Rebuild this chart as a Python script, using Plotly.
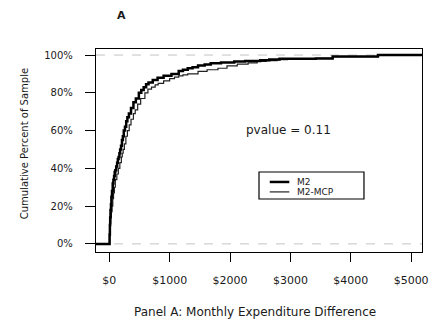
import plotly.graph_objects as go

# ECDF breakpoints (x in $, y in cumulative %)
m2_x = [-220, 0, 5, 10, 15, 20, 28, 35, 45, 57, 68, 80, 90, 100, 115, 130, 142, 155, 168, 180,
        195, 210, 225, 240, 260, 280, 300, 325, 360, 400, 440, 490, 530, 570, 610, 650, 720,
        800, 900, 1030, 1150, 1220, 1300, 1380, 1470, 1580, 1680, 1850, 2070, 2250, 2500,
        2650, 2820, 3420, 3700, 4450, 5180]
m2_y = [0, 0, 5, 10, 14, 18, 21, 25, 28, 32, 34, 36, 38, 39, 41, 43, 45, 46, 48, 50,
        52, 55, 57, 60, 62, 65, 67, 69, 72, 75, 77, 80, 81.5, 83, 84.5, 85.5, 86.8,
        88, 89, 90, 91.6, 92.2, 93, 93.6, 94.5, 95, 95.6, 96, 96.6, 96.9, 97.3,
        97.6, 98, 98.2, 99.2, 100, 100]

mcp_x = [-220, 0, 5, 10, 18, 25, 35, 45, 58, 70, 85, 100, 125, 150, 175, 200, 215, 230, 250,
         275, 300, 330, 360, 400, 430, 470, 520, 590, 640, 700, 760, 810, 900, 1000, 1080,
         1150, 1220, 1300, 1470, 1620, 1800, 1950, 2120, 2300, 2450, 2600, 2780, 2950,
         3420, 3700, 4450, 5180]
mcp_y = [0, 0, 4, 8, 11, 14, 17, 20, 24, 27, 30, 34, 37, 40, 43, 46, 48, 50, 53,
         57, 60, 63, 66, 69, 71, 74, 77, 80, 82, 83, 84.2, 85, 86.3, 87.5, 88.3,
         89, 89.5, 90, 91.3, 92.2, 93, 94.3, 95.2, 95.9, 96.6, 97, 97.5, 98,
         98.2, 99.2, 100, 100]

x_ticks = [0, 1000, 2000, 3000, 4000, 5000]
x_tick_text = ["$0", "$1000", "$2000", "$3000", "$4000", "$5000"]
y_ticks = [0, 20, 40, 60, 80, 100]
y_tick_text = ["0%", "20%", "40%", "60%", "80%", "100%"]

series_names = ["M2", "M2-MCP"]

FONT = "DejaVu Sans"
TXT = "#1a1a1a"

fig = go.Figure()
fig.add_trace(go.Scatter(x=mcp_x, y=mcp_y, mode="lines", line=dict(color="#222", width=1.2, shape="hv"),
                         name=series_names[1], showlegend=False))
fig.add_trace(go.Scatter(x=m2_x, y=m2_y, mode="lines", line=dict(color="black", width=2.5, shape="hv"),
                         name=series_names[0], showlegend=False))

# reference dashed lines at 0% and 100%
for yv in (0, 100):
    fig.add_shape(type="line", xref="paper", x0=0, x1=1, yref="y", y0=yv, y1=yv,
                  line=dict(color="#c4c4c4", width=1, dash="dash"), layer="below")

# manual legend
fig.add_shape(type="rect", xref="paper", yref="paper", x0=0.50, x1=0.822, y0=0.261, y1=0.394,
              line=dict(color="black", width=1.2), fillcolor="white")
fig.add_shape(type="line", xref="paper", yref="paper", x0=0.533, x1=0.593, y0=0.345, y1=0.345,
              line=dict(color="black", width=2.5))
fig.add_shape(type="line", xref="paper", yref="paper", x0=0.533, x1=0.593, y0=0.296, y1=0.296,
              line=dict(color="#222", width=1.2))

annotations = [
    dict(text=series_names[0], x=0.611, y=0.345, xanchor="left", yanchor="middle", font=dict(size=9)),
    dict(text=series_names[1], x=0.611, y=0.296, xanchor="left", yanchor="middle", font=dict(size=9)),
    dict(text="pvalue = 0.11", x=0.590, y=0.601, xanchor="center", yanchor="middle", font=dict(size=12)),
    dict(text="<b>A</b>", x=0.078, y=1.167, xanchor="center", yanchor="middle", font=dict(size=11)),
    dict(text="Panel A: Monthly Expenditure Difference", x=0.488, y=-0.296, xanchor="center",
         yanchor="middle", font=dict(size=12)),
    dict(text="Cumulative Percent of Sample", x=-0.22, y=0.532, xanchor="center", yanchor="middle",
         textangle=-90, font=dict(size=10)),
]
for a in annotations:
    a.update(xref="paper", yref="paper", showarrow=False)
    a["font"].update(family=FONT, color=TXT)
fig.update_layout(annotations=annotations)

fig.update_layout(
    width=438, height=321,
    margin=dict(l=96, r=10, t=49, b=69),
    paper_bgcolor="white", plot_bgcolor="white",
    font=dict(family=FONT, size=10, color=TXT),
    showlegend=False,
)
fig.update_xaxes(range=[-220, 5180], tickvals=x_ticks, ticktext=x_tick_text,
                 showgrid=False, zeroline=False, showline=True, mirror=True,
                 linecolor="black", linewidth=1.3, ticks="outside", ticklen=9, tickwidth=1.3,
                 tickcolor="black", ticklabelstandoff=9, tickfont=dict(size=11, family=FONT, color=TXT))
fig.update_yaxes(range=[-4.3, 103.2], tickvals=y_ticks, ticktext=y_tick_text,
                 showgrid=False, zeroline=False, showline=True, mirror=True,
                 linecolor="black", linewidth=1.3, ticks="outside", ticklen=10, tickwidth=1.3,
                 tickcolor="black", ticklabelstandoff=10, tickfont=dict(size=10, family=FONT, color=TXT))

fig.write_html("out.html")
